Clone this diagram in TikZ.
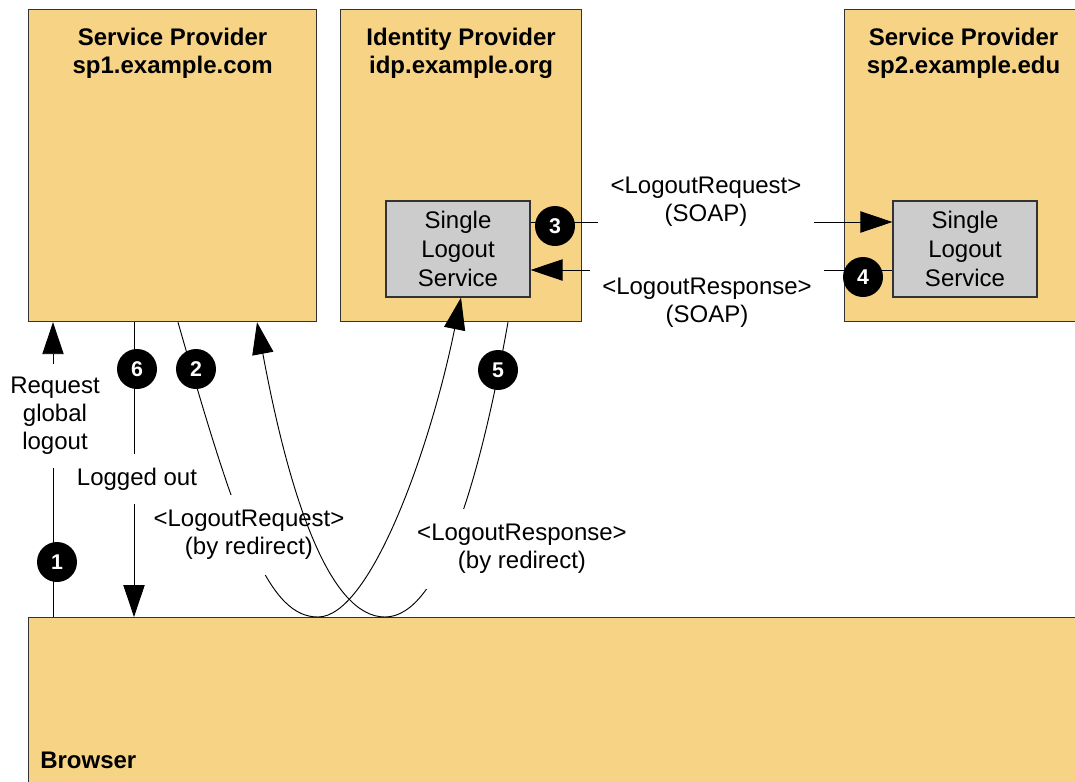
\documentclass[tikz,border=0pt]{standalone}
\usepackage{fontspec}
\setmainfont{Liberation Sans}
\usetikzlibrary{arrows.meta,positioning,calc}
\definecolor{partyfill}{HTML}{F7D485}
\definecolor{slsfill}{HTML}{CCCCCC}
\definecolor{edgegray}{HTML}{333333}
\tikzset{
  party/.style = {draw=edgegray, fill=partyfill, rectangle, anchor=north west, inner sep=0pt, line width=0.9pt},
  sls/.style   = {draw=edgegray, fill=slsfill, rectangle, align=center, inner sep=0pt,
                  minimum width=108pt, minimum height=72pt, line width=0.9pt,
                  font=\fontsize{18}{21.5}\selectfont},
  title/.style = {align=center, anchor=north, inner sep=0pt, font=\fontsize{18}{21}\selectfont\bfseries},
  badge/.style = {circle, fill=black, text=white, minimum size=30pt, inner sep=0pt,
                  font=\fontsize{16}{16}\selectfont\bfseries},
  msg/.style   = {fill=white, align=center, inner sep=0pt, font=\fontsize{18}{21}\selectfont},
  flow/.style  = {line width=0.7pt, -{Triangle[length=24pt,width=16pt]}}
}

\begin{document}
\begin{tikzpicture}[x=0.75pt,y=-0.75pt]
\useasboundingbox (0,0) rectangle (1075,782);
\clip (0,0) rectangle (1075,782);

% parties
\node[party, minimum width=216pt, minimum height=234pt] (sp1) at (28,9) {};
\node[party, minimum width=180.75pt, minimum height=234pt] (idp) at (340,9) {};
\node[party, minimum width=178.5pt, minimum height=234pt] (sp2) at (844,9) {};
\node[party, minimum width=810pt, minimum height=150pt] (browser) at (28,617) {};

\node[title] (sp1 title) at ($(sp1.north)+(0,19)$) {Service Provider\\sp1.example.com};
\node[title] (idp title) at ($(idp.north)+(0,19)$) {Identity Provider\\idp.example.org};
\node[title] (sp2 title) at ($(sp2.north)+(0,19)$) {Service Provider\\sp2.example.edu};
\node[title, anchor=base west] (browser title) at (40,768) {Browser};

\node[sls] (idp sls) at (458,249) {Single\\Logout\\Service};
\node[sls] (sp2 sls) at (965,249) {Single\\Logout\\Service};

% browser <-> sp1
\draw[flow] ($(browser.north west)+(25,0)$) -- ($(sp1.south west)+(25,0)$);
\node[msg, minimum height=78pt] (req global) at (55,416) {Request\\global\\logout};
\draw[flow] ($(sp1.south west)+(106,0)$) -- ($(browser.north west)+(106,0)$);
\node[msg, minimum height=37.5pt] (logged out) at (137,479) {Logged out};

% redirects through the browser
\draw[flow] ($(sp1.south west)+(150,0)$) .. controls (240,540) and (270,617) .. ($(browser.north west)+(290,0)$)
  .. controls (370,617) and (430,450) .. ($(idp sls.south)+(3,0)$);
\node[msg, minimum height=60pt] (req redirect) at (249,535) {<LogoutRequest>\\(by redirect)};
\draw[flow] ($(idp.south west)+(168,0)$) .. controls (480,480) and (440,617) .. ($(browser.north west)+(357,0)$)
  .. controls (330,617) and (290,500) .. ($(sp1.south west)+(229,0)$);
\node[msg, minimum height=60pt] (resp redirect) at (522,549) {<LogoutResponse>\\(by redirect)};

% back channel
\draw[flow] ($(idp sls.east)+(0,-27)$) -- ($(sp2 sls.west)+(0,-27)$);
\node[msg, minimum width=162pt, minimum height=40pt] (soap req) at (706,202) {<LogoutRequest>\\(SOAP)};
\draw[flow] ($(sp2 sls.west)+(0,21)$) -- ($(idp sls.east)+(0,21)$);
\node[msg, minimum width=175.5pt, minimum height=54pt] (soap resp) at (707,303) {<LogoutResponse>\\(SOAP)};

% step numbers
\node[badge] (s1) at (57,562) {1};
\node[badge] (s2) at (196,369) {2};
\node[badge] (s3) at (555,226) {3};
\node[badge] (s4) at (863,277) {4};
\node[badge] (s5) at (498,370) {5};
\node[badge] (s6) at (137,369) {6};
\end{tikzpicture}
\end{document}
